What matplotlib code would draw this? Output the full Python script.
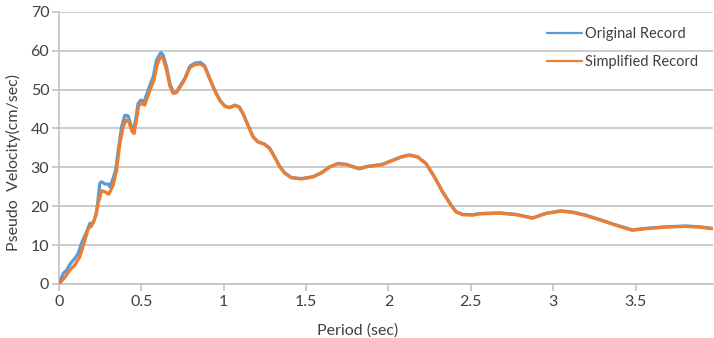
import matplotlib
matplotlib.use("Agg")
import matplotlib.pyplot as plt

period_orig = [0.0, 0.026, 0.047, 0.067, 0.097, 0.117, 0.137, 0.168, 0.188, 0.208, 0.228,
               0.248, 0.259, 0.279, 0.299, 0.309, 0.329, 0.344, 0.36, 0.38, 0.4, 0.42,
               0.44, 0.45, 0.465, 0.48, 0.497, 0.517, 0.541, 0.572, 0.592, 0.618, 0.632,
               0.653, 0.673, 0.693, 0.713, 0.744, 0.764,
               0.794, 0.824, 0.859, 0.885, 0.915, 0.945, 0.976, 1.006, 1.036, 1.067, 1.093,
               1.117, 1.147, 1.178, 1.208, 1.248, 1.279, 1.309, 1.339, 1.37, 1.41, 1.471,
               1.541, 1.592, 1.642, 1.693, 1.744, 1.784, 1.824, 1.865, 1.915, 1.965, 2.016,
               2.077, 2.127, 2.178, 2.228, 2.279, 2.329, 2.38, 2.41, 2.45, 2.511, 2.552,
               2.673, 2.774, 2.875, 2.956, 3.047, 3.117, 3.198, 3.279, 3.38, 3.48, 3.562,
               3.683, 3.804, 3.885, 3.966]
pv_orig = [0.0, 2.7, 3.6, 5.1, 6.6, 7.9, 10.5, 13.4, 15.6, 15.7, 18.2,
           25.9, 26.3, 25.7, 25.7, 25.0, 27.2, 29.3, 34.4, 40.4, 43.4, 43.2,
           40.4, 39.2, 42.2, 46.4, 47.3, 46.9, 49.9, 53.3, 57.6, 59.5, 58.9,
           55.9, 51.6, 49.4, 49.4, 51.6, 52.9,
           56.0, 56.8, 57.0, 56.1, 52.9, 49.9, 47.3, 45.8, 45.4, 46.0, 45.6,
           43.9, 40.9, 37.9, 36.6, 36.0, 34.9, 32.7, 30.3, 28.6, 27.4, 27.1,
           27.6, 28.6, 30.1, 31.0, 30.8, 30.2, 29.7, 30.2, 30.5, 30.8, 31.7,
           32.7, 33.2, 32.7, 31.0, 27.6, 23.7, 20.3, 18.6, 17.9, 17.8, 18.1,
           18.3, 17.9, 17.0, 18.2, 18.8, 18.5, 17.7, 16.6, 15.2, 13.9, 14.3,
           14.7, 14.9, 14.7, 14.3]

period_simp = [0.0, 0.036, 0.067, 0.097, 0.127, 0.158, 0.178, 0.198, 0.218, 0.238, 0.259,
               0.279, 0.303, 0.329, 0.35, 0.37, 0.39, 0.406, 0.424, 0.444, 0.456, 0.47,
               0.485, 0.501, 0.521, 0.545, 0.576, 0.596, 0.614, 0.632, 0.653, 0.673, 0.693,
               0.713, 0.744, 0.764,
               0.794, 0.824, 0.859, 0.885, 0.915, 0.945, 0.976, 1.006, 1.036, 1.067, 1.093,
               1.117, 1.147, 1.178, 1.208, 1.248, 1.279, 1.309, 1.339, 1.37, 1.41, 1.471,
               1.541, 1.592, 1.642, 1.693, 1.744, 1.784, 1.824, 1.865, 1.915, 1.965, 2.016,
               2.077, 2.127, 2.178, 2.228, 2.279, 2.329, 2.38, 2.41, 2.45, 2.511, 2.552,
               2.673, 2.774, 2.875, 2.956, 3.047, 3.117, 3.198, 3.279, 3.38, 3.48, 3.562,
               3.683, 3.804, 3.885, 3.966]
pv_simp = [0.0, 1.7, 3.6, 4.9, 7.0, 11.3, 14.3, 14.9, 16.9, 20.7, 24.0,
           23.7, 23.1, 25.4, 29.3, 36.2, 40.4, 42.2, 41.7, 39.2, 38.7, 42.2,
           46.0, 46.4, 46.0, 49.0, 52.4, 56.3, 58.4, 58.0, 55.0, 50.9, 49.0,
           49.2, 51.2, 52.6,
           55.6, 56.4, 56.6, 55.8, 52.7, 49.8, 47.2, 45.7, 45.3, 45.9, 45.5,
           43.8, 40.8, 37.8, 36.5, 35.9, 34.8, 32.6, 30.2, 28.5, 27.3, 27.0,
           27.5, 28.5, 30.0, 30.9, 30.7, 30.1, 29.6, 30.1, 30.4, 30.7, 31.6,
           32.6, 33.1, 32.6, 30.9, 27.5, 23.6, 20.2, 18.5, 17.8, 17.7, 18.0,
           18.2, 17.8, 16.9, 18.1, 18.7, 18.4, 17.6, 16.5, 15.1, 13.8, 14.2,
           14.6, 14.8, 14.6, 14.2]

x_ticks = [0, 0.5, 1, 1.5, 2, 2.5, 3, 3.5]
x_tick_labels = ["0", "0.5", "1", "1.5", "2", "2.5", "3", "3.5"]
y_ticks = [0, 10, 20, 30, 40, 50, 60, 70]

plt.rcParams['font.family'] = ['Lato', 'DejaVu Sans']

fig = plt.figure(figsize=(7.14, 3.38), dpi=100)
ax = fig.add_axes([0.0826, 0.16, 0.9160, 0.805])

grey = '#BFBFBF'
txt = '#404040'
ax.plot(period_orig, pv_orig, color='#5B9BD5', lw=2.3, solid_joinstyle='round',
        solid_capstyle='round', label='Original Record', zorder=3)
ax.plot(period_simp, pv_simp, color='#ED7D31', lw=2.3, solid_joinstyle='round',
        solid_capstyle='round', label='Simplified Record', zorder=4)

ax.set_xlim(0, 3.97)
ax.set_ylim(0, 70)
ax.set_xticks(x_ticks)
ax.set_xticklabels(x_tick_labels)
ax.set_yticks(y_ticks)
ax.yaxis.grid(True, color=grey, lw=1.1)
ax.set_axisbelow(True)
for s in ['top', 'right']:
    ax.spines[s].set_visible(False)
for s in ['left', 'bottom']:
    ax.spines[s].set_color(grey)
    ax.spines[s].set_linewidth(1.1)
ax.tick_params(axis='both', colors=grey, length=5, width=1.1, labelsize=11.5,
               labelcolor=txt, direction='out')
ax.tick_params(axis='x', pad=3)
ax.tick_params(axis='y', pad=2)

ax.set_xlabel('Period (sec)', fontsize=11.5, color=txt)
ax.xaxis.set_label_coords(0.457, -0.145)
ax.set_ylabel('Pseudo  Velocity(cm/sec)', fontsize=11.5, color=txt)
ax.yaxis.set_label_coords(-0.058, 0.445)

leg = ax.legend(loc='upper left', bbox_to_anchor=(0.746, 0.945), frameon=False,
                fontsize=10.5, handlelength=2.4, handletextpad=0.2, labelspacing=0.95,
                borderaxespad=0, borderpad=0, labelcolor=txt)
for ln in leg.get_lines():
    ln.set_linewidth(1.6)

fig.savefig('out.png', dpi=100)
